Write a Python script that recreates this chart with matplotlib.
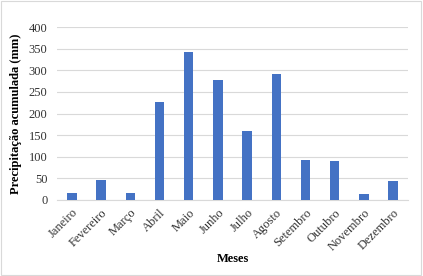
import matplotlib
matplotlib.use("Agg")
import matplotlib.pyplot as plt
from matplotlib.patches import Rectangle

meses = ["Janeiro", "Fevereiro", "Março", "Abril", "Maio", "Junho", "Julho",
         "Agosto", "Setembro", "Outubro", "Novembro", "Dezembro"]
precip = [16, 45, 16, 226, 343, 277, 159, 291, 91, 90, 13, 43]
yticks = [0, 50, 100, 150, 200, 250, 300, 350, 400]

plt.rcParams['font.family'] = ['Liberation Serif', 'DejaVu Serif']

fig = plt.figure(figsize=(4.23, 2.76), dpi=100)
fig.patches.append(Rectangle((0.002, 0.004), 0.994, 0.992, transform=fig.transFigure,
                             fill=False, edgecolor='#d9d9d9', linewidth=0.8))
ax = fig.add_axes([0.1355, 0.2764, 0.8285, 0.6246])

x = range(len(meses))
ax.bar(x, precip, width=0.32, color='#4472C4', zorder=3)
ax.set_ylim(0, 400)
ax.set_xlim(-0.5, len(meses) - 0.5)
ax.set_yticks(yticks)
ax.set_yticklabels([str(v) for v in yticks], fontsize=9)
ax.set_xticks(list(x))
ax.set_xticklabels(meses, rotation=45, ha='right', rotation_mode='anchor', fontsize=9)
ax.grid(axis='y', color='#d9d9d9', linewidth=0.8, zorder=0)
for s in ['top', 'right', 'left']:
    ax.spines[s].set_visible(False)
ax.spines['bottom'].set_color('#d9d9d9')
ax.spines['bottom'].set_linewidth(0.8)
ax.tick_params(axis='both', length=0, colors='#333333')
ax.tick_params(axis='x', pad=5)
ax.tick_params(axis='y', pad=7)
ax.set_ylabel("Precipitação acumulada (mm)", fontsize=9, fontweight='bold', labelpad=5)
ax.set_xlabel("Meses", fontsize=9, fontweight='bold', labelpad=0)

fig.savefig("out.png", dpi=100)
